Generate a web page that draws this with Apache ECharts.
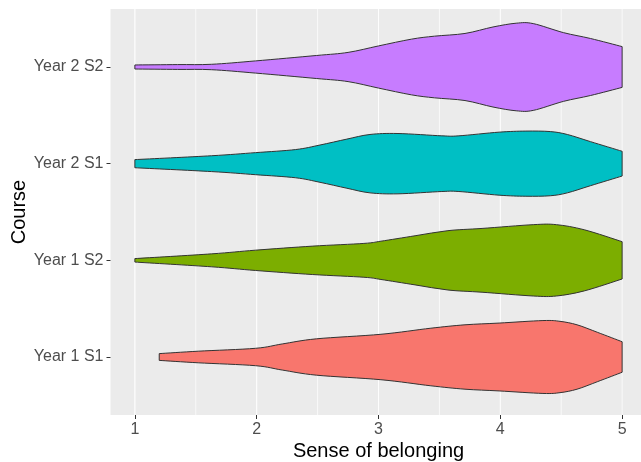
<!DOCTYPE html>
<html>
<head>
<meta charset="utf-8">
<script src="https://cdn.jsdelivr.net/npm/echarts@6/dist/echarts.min.js"></script>
<style>
html,body{margin:0;padding:0;background:#fff;}
#chart{width:641px;height:462px;}
</style>
</head>
<body>
<div id="chart"></div>
<script>
// Categories (bottom to top)
const courses = ['Year 1 S1', 'Year 1 S2', 'Year 2 S1', 'Year 2 S2'];
const fillColors = ['#F8766D', '#7CAE00', '#00BFC4', '#C77CFF'];

// Axis ticks
const xTicks = [1, 2, 3, 4, 5];
const xMinor = [1.5, 2.5, 3.5, 4.5];
const yTicks = [1, 2, 3, 4];

// Violin outlines: score values and half-widths (in category units)
const y1s1X = [1.20, 1.52, 1.99, 2.21, 2.49, 3.02, 3.43, 3.71, 3.99, 4.35, 4.49, 4.63, 4.80, 5.00];
const y1s1W = [0.035, 0.060, 0.090, 0.135, 0.188, 0.235, 0.298, 0.333, 0.351, 0.377, 0.369, 0.333, 0.254, 0.158];

const y1s2X = [1.00, 1.63, 1.99, 2.46, 2.88, 3.02, 3.30, 3.57, 3.85, 4.27, 4.46, 4.69, 5.00];
const y1s2W = [0.018, 0.067, 0.105, 0.147, 0.175, 0.198, 0.254, 0.307, 0.330, 0.369, 0.369, 0.316, 0.193];

const y2s1X = [1.00, 1.63, 1.99, 2.32, 2.52, 2.74, 2.93, 3.16, 3.52, 3.66, 3.99, 4.21, 4.41, 4.55, 4.74, 5.00];
const y2s1W = [0.042, 0.082, 0.114, 0.146, 0.193, 0.254, 0.302, 0.312, 0.288, 0.288, 0.326, 0.337, 0.332, 0.302, 0.228, 0.128];

const y2s2X = [1.00, 1.35, 1.63, 1.99, 2.49, 2.75, 3.00, 3.27, 3.46, 3.71, 3.94, 4.13, 4.27, 4.52, 4.74, 5.00];
const y2s2W = [0.021, 0.025, 0.028, 0.063, 0.119, 0.151, 0.218, 0.288, 0.319, 0.347, 0.414, 0.453, 0.449, 0.355, 0.295, 0.211];

const violinX = [y1s1X, y1s2X, y2s1X, y2s2X];
const violinW = [y1s1W, y1s2W, y2s1W, y2s2W];

const chart = echarts.init(document.getElementById('chart'));

const gridData = [];
xMinor.forEach(v => gridData.push(['xminor', v]));
xTicks.forEach(v => gridData.push(['xmajor', v]));
yTicks.forEach(v => gridData.push(['ymajor', v]));

const FONT = '"Liberation Sans", Arial, sans-serif';

// Smooth (Catmull-Rom) path segments through pixel points, starting from pts[0]
function smoothSegs(pts) {
  let d = '';
  const n = pts.length;
  for (let i = 0; i < n - 1; i++) {
    const p0 = pts[Math.max(i - 1, 0)], p1 = pts[i], p2 = pts[i + 1], p3 = pts[Math.min(i + 2, n - 1)];
    const c1x = p1[0] + (p2[0] - p0[0]) / 6, c1y = p1[1] + (p2[1] - p0[1]) / 6;
    const c2x = p2[0] - (p3[0] - p1[0]) / 6, c2y = p2[1] - (p3[1] - p1[1]) / 6;
    d += ' C' + c1x.toFixed(2) + ' ' + c1y.toFixed(2) + ' ' + c2x.toFixed(2) + ' ' + c2y.toFixed(2) + ' ' + p2[0].toFixed(2) + ' ' + p2[1].toFixed(2);
  }
  return d;
}

chart.setOption({
  animation: false,
  backgroundColor: '#ffffff',
  grid: {
    left: 110.5, right: -5.5, top: 9, bottom: 47,
    containLabel: false, outerBoundsMode: 'none',
    show: true, backgroundColor: '#EBEBEB', borderWidth: 0
  },
  xAxis: {
    type: 'value', min: 0.8, max: 5.2,
    name: 'Sense of belonging', nameLocation: 'middle', nameGap: 26, nameMoveOverlap: false,
    nameTextStyle: { fontSize: 20, color: '#000000', fontFamily: FONT },
    axisLine: { show: false },
    axisTick: { show: true, length: 4, customValues: xTicks, lineStyle: { color: '#333333', width: 1 } },
    axisLabel: { customValues: xTicks, margin: 7, fontSize: 16, color: '#4D4D4D', fontFamily: FONT },
    splitLine: { show: false }
  },
  yAxis: {
    type: 'value', min: 0.4, max: 4.6,
    name: 'Course', nameLocation: 'middle', nameGap: 81, nameRotate: 90, nameMoveOverlap: false,
    nameTextStyle: { fontSize: 20, color: '#000000', fontFamily: FONT },
    axisLine: { show: false },
    axisTick: { show: true, length: 4, customValues: yTicks, lineStyle: { color: '#333333', width: 1 } },
    axisLabel: {
      customValues: yTicks, margin: 7, fontSize: 16, color: '#4D4D4D', fontFamily: FONT,
      formatter: v => courses[Math.round(v) - 1]
    },
    splitLine: { show: false }
  },
  series: [
    {
      type: 'custom',
      silent: true,
      z: 1,
      data: gridData,
      renderItem: function (params, api) {
        const kind = api.value(0);
        const v = api.value(1);
        const cs = params.coordSys;
        if (kind === 'ymajor') {
          const p = api.coord([0.8, v]);
          return { type: 'line', shape: { x1: cs.x, y1: p[1], x2: cs.x + cs.width, y2: p[1] },
            style: { stroke: '#FFFFFF', lineWidth: 1.3 } };
        }
        const p = api.coord([v, 0.4]);
        return { type: 'line', shape: { x1: p[0], y1: cs.y, x2: p[0], y2: cs.y + cs.height },
          style: { stroke: '#FFFFFF', lineWidth: kind === 'xmajor' ? 1.3 : 0.7 } };
      }
    },
    {
      type: 'custom',
      silent: true,
      z: 2,
      data: courses.map((c, i) => [i]),
      renderItem: function (params, api) {
        const i = params.dataIndex;
        const xs = violinX[i], ws = violinW[i];
        const center = i + 1;
        const upper = [], lower = [];
        for (let k = 0; k < xs.length; k++) upper.push(api.coord([xs[k], center + ws[k]]));
        for (let k = xs.length - 1; k >= 0; k--) lower.push(api.coord([xs[k], center - ws[k]]));
        let d = 'M' + upper[0][0].toFixed(2) + ' ' + upper[0][1].toFixed(2);
        d += smoothSegs(upper);
        d += ' L' + lower[0][0].toFixed(2) + ' ' + lower[0][1].toFixed(2);
        d += smoothSegs(lower);
        d += ' Z';
        return {
          type: 'path',
          shape: { pathData: d, layout: 'cover' },
          style: { fill: fillColors[i], stroke: '#333333', lineWidth: 1 }
        };
      }
    }
  ]
});
</script>
</body>
</html>
